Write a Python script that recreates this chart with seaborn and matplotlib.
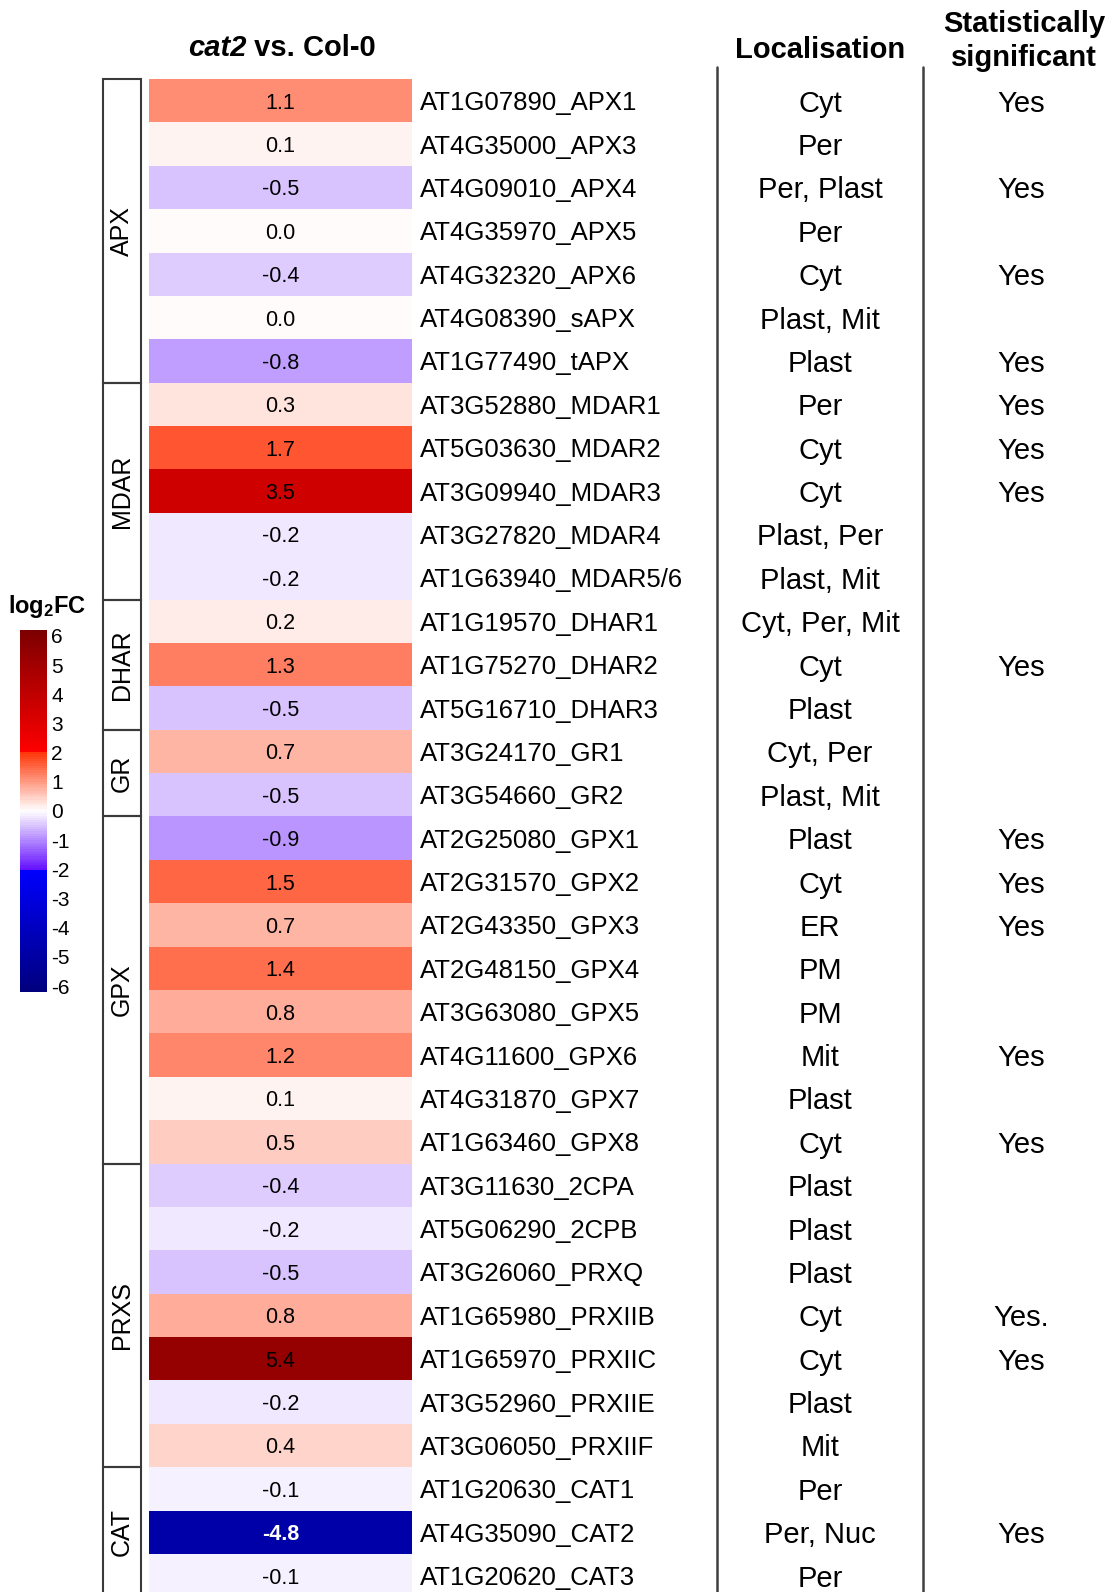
import numpy as np
import pandas as pd
import matplotlib
matplotlib.use("Agg")
import matplotlib.pyplot as plt
import matplotlib.transforms as mtrans
from matplotlib.colors import LinearSegmentedColormap
from matplotlib.patches import Rectangle
from matplotlib.lines import Line2D
import seaborn as sns

# ---------------- data ----------------
genes = ["AT1G07890_APX1", "AT4G35000_APX3", "AT4G09010_APX4", "AT4G35970_APX5",
         "AT4G32320_APX6", "AT4G08390_sAPX", "AT1G77490_tAPX", "AT3G52880_MDAR1",
         "AT5G03630_MDAR2", "AT3G09940_MDAR3", "AT3G27820_MDAR4", "AT1G63940_MDAR5/6",
         "AT1G19570_DHAR1", "AT1G75270_DHAR2", "AT5G16710_DHAR3", "AT3G24170_GR1",
         "AT3G54660_GR2", "AT2G25080_GPX1", "AT2G31570_GPX2", "AT2G43350_GPX3",
         "AT2G48150_GPX4", "AT3G63080_GPX5", "AT4G11600_GPX6", "AT4G31870_GPX7",
         "AT1G63460_GPX8", "AT3G11630_2CPA", "AT5G06290_2CPB", "AT3G26060_PRXQ",
         "AT1G65980_PRXIIB", "AT1G65970_PRXIIC", "AT3G52960_PRXIIE", "AT3G06050_PRXIIF",
         "AT1G20630_CAT1", "AT4G35090_CAT2", "AT1G20620_CAT3"]
log2fc = [1.1, 0.1, -0.5, 0.03, -0.4, 0.03, -0.8, 0.3, 1.7, 3.5, -0.2, -0.2,
          0.2, 1.3, -0.5, 0.7, -0.5, -0.9, 1.5, 0.7, 1.4, 0.8, 1.2, 0.1, 0.5,
          -0.4, -0.2, -0.5, 0.8, 5.4, -0.2, 0.4, -0.1, -4.8, -0.1]
localisation = ["Cyt", "Per", "Per, Plast", "Per", "Cyt", "Plast, Mit", "Plast", "Per",
                "Cyt", "Cyt", "Plast, Per", "Plast, Mit", "Cyt, Per, Mit", "Cyt", "Plast",
                "Cyt, Per", "Plast, Mit", "Plast", "Cyt", "ER", "PM", "PM", "Mit", "Plast",
                "Cyt", "Plast", "Plast", "Plast", "Cyt", "Cyt", "Plast", "Mit", "Per",
                "Per, Nuc", "Per"]
significant = ["Yes", "", "Yes", "", "Yes", "", "Yes", "Yes", "Yes", "Yes", "", "",
               "", "Yes", "", "", "", "Yes", "Yes", "Yes", "", "", "Yes", "", "Yes",
               "", "", "", "Yes.", "Yes", "", "", "", "Yes", ""]
group_names = ["APX", "MDAR", "DHAR", "GR", "GPX", "PRXS", "CAT"]
group_sizes = [7, 5, 3, 2, 8, 7, 3]
cbar_ticks = [-6, -5, -4, -3, -2, -1, 0, 1, 2, 3, 4, 5, 6]

# ---------------- style ----------------
sns.set_style("white")
plt.rcParams["font.family"] = ["Liberation Sans", "DejaVu Sans"]
plt.rcParams["text.color"] = "black"
plt.rcParams["ytick.color"] = "black"
plt.rcParams["xtick.color"] = "black"
plt.rcParams["mathtext.fontset"] = "custom"
plt.rcParams["mathtext.rm"] = "Liberation Sans"
plt.rcParams["mathtext.bf"] = "Liberation Sans:bold"
plt.rcParams["mathtext.it"] = "Liberation Sans:italic"

W, H = 1111, 1592
fig = plt.figure(figsize=(W / 100, H / 100), dpi=100)

def fx(px):
    return px / W

def fy(py):
    return 1 - py / H

# colormap
vmin, vmax = -6.2, 6.2
def pos(v):
    return (v - vmin) / (vmax - vmin)
eps = 0.01
cmap = LinearSegmentedColormap.from_list("fc", [
    (pos(vmin), "#00007e"),
    (pos(-2), "#0000ff"),
    (pos(-2 + eps), "#6614ff"),
    (0.5, "#ffffff"),
    (pos(2 - eps), "#ff370a"),
    (pos(2), "#ff0000"),
    (pos(vmax), "#7d0000"),
], N=160)

# ---------------- heatmap ----------------
row_h = 43.38
top = 79
n = len(genes)
ax = fig.add_axes([fx(149), fy(top + n * row_h), fx(412) - fx(149), (n * row_h) / H])
cax = fig.add_axes([fx(20), fy(992), fx(47) - fx(20), (992 - 630) / H])

df = pd.DataFrame({"cat2 vs. Col-0": log2fc}, index=genes)
sns.heatmap(df, ax=ax, cmap=cmap, vmin=vmin, vmax=vmax, cbar_ax=cax,
            annot=True, fmt=".1f", annot_kws={"size": 15.5, "color": "black"},
            xticklabels=False, yticklabels=genes)

for t, v in zip(ax.texts, log2fc):
    t.set_color("black")
    t.set_va("center_baseline")
    if v < -3:
        t.set_color("white")
        t.set_fontweight("bold")

ax.yaxis.tick_right()
ax.tick_params(axis="y", length=0, pad=6, labelsize=18.5, labelrotation=0,
               labelcolor="black")
for lab in ax.get_yticklabels():
    lab.set_ha("left")
ax.set_xlabel("")
ax.set_ylabel("")

# colorbar
cbar = ax.collections[0].colorbar
cbar.set_ticks(cbar_ticks)
cbar.set_ticklabels([str(t) for t in cbar_ticks])
cbar.outline.set_visible(False)
cax.tick_params(axis="y", direction="in", length=6, width=1.3, color="white",
                labelcolor="black", labelsize=15, pad=3,
                left=True, right=True, labelleft=False, labelright=True)
fig.text(fx(8), fy(606), r"$\mathbf{log_2FC}$", fontsize=17, ha="left", va="center")

# ---------------- group brackets ----------------
gax = fig.add_axes([fx(103), fy(top + n * row_h), fx(141) - fx(103), (n * row_h) / H],
                   sharey=ax)
gax.set_xlim(0, 1)
gax.axis("off")
start = 0
for name, size in zip(group_names, group_sizes):
    gax.add_patch(Rectangle((0, start), 1, size, fill=False, edgecolor="#3a3a3a",
                            linewidth=1.5, clip_on=False))
    gax.text(0.5, start + size / 2, name, rotation=90, ha="center", va="center",
             fontsize=18)
    start += size

# ---------------- side columns ----------------
tr = mtrans.blended_transform_factory(fig.transFigure, ax.transData)
for i, (loc, sig) in enumerate(zip(localisation, significant)):
    ax.text(fx(820), i + 0.5, loc, transform=tr, ha="center", va="center_baseline",
            fontsize=21, clip_on=False)
    if sig:
        ax.text(fx(1021), i + 0.5, sig, transform=tr, ha="center",
                va="center_baseline", fontsize=21, clip_on=False)

for xpx in (717, 923):
    fig.add_artist(Line2D([fx(xpx), fx(xpx)], [fy(67), fy(H + 5)],
                          color="#404040", linewidth=1.8))

# ---------------- headers ----------------
t1 = fig.text(fx(188), fy(48), "cat2", fontsize=21, fontweight="bold",
              fontstyle="italic", ha="left", va="center")
ax.annotate(" vs. Col-0", xy=(1, 0), xycoords=t1, ha="left", va="bottom",
            fontsize=21, fontweight="bold", annotation_clip=False)

fig.text(fx(820), fy(50), "Localisation", fontsize=21, fontweight="bold",
         ha="center", va="center")
fig.text(fx(1024), fy(41), "Statistically\nsignificant", fontsize=21,
         fontweight="bold", ha="center", va="center", linespacing=1.28)

fig.savefig("out.png", dpi=100)
